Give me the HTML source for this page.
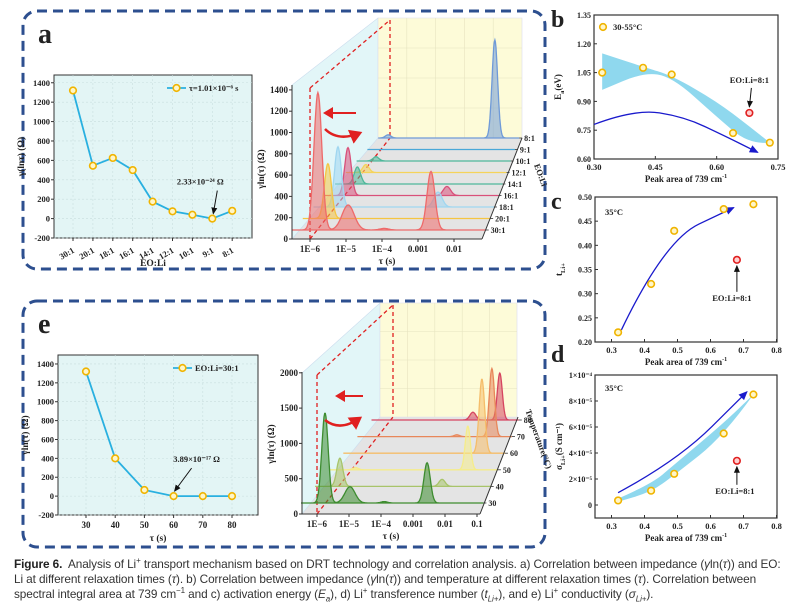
<!DOCTYPE html>
<html><head><meta charset="utf-8">
<style>
html,body{margin:0;padding:0;background:#fff;}
#wrap{position:relative;width:808px;height:612px;overflow:hidden;}
svg text{font-family:"Liberation Serif",serif;font-weight:bold;fill:#222;}
#cap{position:absolute;left:14px;top:557px;width:794px;font-family:"Liberation Sans",sans-serif;font-size:11.8px;line-height:15px;color:#333;white-space:nowrap;letter-spacing:-0.1px;}
#cap b{color:#222}
#cap sup,#cap sub{font-size:8px;line-height:0;}
</style></head><body>
<div id="wrap">
<svg id="svg" width="808" height="560" viewBox="0 0 808 560">
 <rect x="23" y="11" width="522" height="258" rx="14" fill="none" stroke="#2d4f8f" stroke-width="3" stroke-dasharray="10 6"/>
 <rect x="23" y="301" width="522" height="246" rx="14" fill="none" stroke="#2d4f8f" stroke-width="3" stroke-dasharray="10 6"/>
 <text x="38" y="43" font-size="28">a</text>
 <text x="38" y="333" font-size="28">e</text>
 <text x="551" y="27" font-size="24">b</text>
 <text x="551" y="209" font-size="24">c</text>
 <text x="551" y="362" font-size="24">d</text>
 <g id="g"></g>
</svg>
<div id="cap"><b>Figure 6.</b>&nbsp; Analysis of Li<sup>+</sup> transport mechanism based on DRT technology and correlation analysis. a) Correlation between impedance (<i>γ</i>ln(<i>τ</i>)) and EO:<br>Li at different relaxation times (<i>τ</i>). b) Correlation between impedance (<i>γ</i>ln(<i>τ</i>)) and temperature at different relaxation times (<i>τ</i>). Correlation between<br>spectral integral area at 739 cm<sup>−1</sup> and c) activation energy (<i>E<sub>a</sub></i>), d) Li<sup>+</sup> transference number (<i>t<sub>Li+</sub></i>), and e) Li<sup>+</sup> conductivity (<i>σ<sub>Li+</sub></i>).</div>
</div>
<script>
// ---------- data ----------
const aCats=["30:1","20:1","18:1","16:1","14:1","12:1","10:1","9:1","8:1"];
const aVals=[1320,545,625,500,175,75,40,0,80];
const aTicks=[-200,0,200,400,600,800,1000,1200,1400];
const eTaus=[30,40,50,60,70,80];
const eVals=[1320,400,65,0,0,0];
const eTicks=[-200,0,200,400,600,800,1000,1200,1400];
const a3Rows=["30:1","20:1","18:1","16:1","14:1","12:1","10:1","9:1","8:1"];
const a3Colors=["#ee6a6a","#f5c542","#9fd6f0","#d9507a","#4fb89a","#f5d35a","#4fb89a","#4aa8d8","#6f9ad8"];
// [row, log10 tau, height (Ohm), width]
const a3Peaks=[[0,-5.78,1290,0.11],[0,-4.94,235,0.17],[0,-3.94,15,0.12],[0,-2.64,550,0.11],
 [1,-5.78,515,0.1],[2,-5.78,565,0.1],[2,-2.83,140,0.12],[3,-5.78,450,0.1],[3,-2.77,85,0.11],
 [4,-5.8,160,0.1],[5,-5.85,75,0.1],[6,-5.85,40,0.1],[8,-6.14,30,0.1],[8,-2.28,920,0.1]];
const a3Yticks=[0,200,400,600,800,1000,1200,1400];
const a3Xticks=["1E−6","1E−5","1E−4","0.001","0.01"];
const e3Rows=["30","40","50","60","70","80"];
const e3Colors=["#3d8c2f","#a8c46a","#f5ec8a","#f5bd6a","#e8875a","#d64560"];
const e3Peaks=[[0,-5.75,1275,0.1],[0,-4.97,230,0.16],[0,-3.9,20,0.1],[0,-2.56,570,0.1],
 [1,-5.69,400,0.1],[1,-2.35,100,0.1],[2,-5.6,30,0.1],[2,-1.75,620,0.09],[3,-1.51,1050,0.1],
 [4,-2.73,25,0.1],[4,-1.4,965,0.1],[5,-2.44,110,0.12],[5,-1.36,665,0.1]];
const e3Yticks=[0,500,1000,1500,2000];
const e3Xticks=["1E−6","1E−5","1E−4","0.001","0.01","0.1"];
const bX=[0.32,0.42,0.49,0.64,0.73];
const bY=[1.05,1.075,1.04,0.735,0.685];
const bOut=[0.68,0.84];
const bXticks=[0.30,0.45,0.60,0.75];
const bYticks=[0.60,0.75,0.90,1.05,1.20,1.35];
const cX=[0.32,0.42,0.49,0.64,0.73];
const cY=[0.22,0.32,0.43,0.475,0.485];
const cOut=[0.68,0.37];
const cdXticks=[0.3,0.4,0.5,0.6,0.7,0.8];
const cYticks=[0.20,0.25,0.30,0.35,0.40,0.45,0.50];
const dX=[0.32,0.42,0.49,0.64,0.73];
const dY=[0.35,1.1,2.4,5.5,8.5];
const dOut=[0.68,3.4];
const dYticks=[0,2,4,6,8,10];
const dYlabels=["0","2×10⁻⁵","4×10⁻⁵","6×10⁻⁵","8×10⁻⁵","1×10⁻⁴"];

// ---------- helpers ----------
const NS="http://www.w3.org/2000/svg";
const G=document.getElementById("g");
function mk(tag,attrs,parent){const e=document.createElementNS(NS,tag);for(const k in attrs)e.setAttribute(k,attrs[k]);(parent||G).appendChild(e);return e;}
function txt(x,y,s,size,anchor,name){const t=mk("text",{x:x,y:y,"font-size":size,"text-anchor":anchor||"middle"});t.textContent=s;


return t;}
function line(x1,y1,x2,y2,st,w,name,dash){const l=mk("line",{x1:x1,y1:y1,x2:x2,y2:y2,stroke:st,"stroke-width":w});if(dash)l.setAttribute("stroke-dasharray",dash);


return l;}
function marker(x,y,red,name){const c=mk("circle",{cx:x,cy:y,r:3.3,fill:red?"#ffd0d0":"#fff6c8",stroke:red?"#e02020":"#f0b400","stroke-width":1.6});


return c;}
const defs=mk("defs",{});
defs.innerHTML='<marker id="ab" markerWidth="8" markerHeight="8" refX="6" refY="4" orient="auto"><path d="M0,1 L7,4 L0,7 z" fill="#1a1acc"/></marker><marker id="ak" markerWidth="8" markerHeight="8" refX="6" refY="4" orient="auto"><path d="M0,1 L7,4 L0,7 z" fill="#111"/></marker><marker id="ar" markerWidth="6" markerHeight="6" refX="4" refY="3" orient="auto"><path d="M0,0 L5,3 L0,6 z" fill="#e02020"/></marker>';

// ---------- 2D line charts (a, e) ----------
function lineChart(L,R,T,B,yTicks,yMin,yMax,xs,vals,xlabels,rot,legend,note,noteIdx,xTitle,yTitle,pfx){
 const y=v=>B-(v-yMin)/(yMax-yMin)*(B-T);
 const bg=mk("rect",{x:L,y:T,width:R-L,height:B-T,fill:"#e3f5f5",stroke:"#333","stroke-width":1});
 
 
 yTicks.forEach(v=>{line(L,y(v),R,y(v),"#c9dede",0.6,pfx+"-gridline","2 2");line(L-3,y(v),L,y(v),"#333",1,pfx+"-y-tick");txt(L-4,y(v)+3,String(v),8.5,"end",pfx+"-y-tick-label");});
 xs.forEach((x,i)=>{line(x,T,x,B,"#c9dede",0.6,pfx+"-gridline","2 2");line(x,B,x,B+3,"#333",1,pfx+"-x-tick");
  if(rot){const t=txt(x+2,B+14,xlabels[i],8.5,"end",pfx+"-x-tick-label");t.setAttribute("transform","rotate(-30 "+(x+2)+" "+(B+14)+")");}
  else txt(x,B+13,xlabels[i],9,"middle",pfx+"-x-tick-label");});
 const pl=mk("polyline",{points:xs.map((x,i)=>x+","+y(vals[i])).join(" "),fill:"none",stroke:"#29b0e0","stroke-width":1.8});
 
 
 xs.forEach((x,i)=>marker(x,y(vals[i]),false,pfx+"-point"));
 line(R-85,T+13,R-66,T+13,"#29b0e0",1.8,pfx+"-legend-line");marker(R-75.5,T+13,false,pfx+"-legend-marker");
 txt(R-63,T+16,legend,8.5,"start",pfx+"-legend-label");
 const nx=xs[noteIdx],ny=y(vals[noteIdx]);
 txt(nx-4+note[1],ny-34,note[0],8.5,"middle",pfx+"-annotation");
 const ar=line(nx+note[2],ny-28,nx+1,ny-5,"#111",1,pfx+"-annotation-arrow");ar.setAttribute("marker-end","url(#ak)");
 txt((L+R)/2,B+(rot?28:26),xTitle,9.5,"middle",pfx+"-x-axis-title");
 const yt=txt(L-30,(T+B)/2,yTitle,9.5,"middle",pfx+"-y-axis-title");yt.setAttribute("transform","rotate(-90 "+(L-30)+" "+((T+B)/2)+")");
}
lineChart(54,252,75,238,aTicks,-200,1480,aCats.map((c,i)=>73+i*19.9),aVals,aCats,true,"τ=1.01×10⁻⁶ s",["2.33×10⁻²⁴ Ω",-8,5],7,"EO:Li","γ(lnτ) (Ω)","chart-a");
lineChart(58,258,355,515,eTicks,-200,1495,eTaus.map(t=>86+(t-30)*2.92),eVals,eTaus.map(String),false,"EO:Li=30:1",["3.89×10⁻¹⁷ Ω",27,18],3,"τ (s)","γln(τ) (Ω)","chart-e");

// ---------- 3D waterfall charts ----------
function wf(c){
 const p=c.pfx;
 const fl=mk("polygon",{points:c.floor,fill:"#e4e4e4"});
 const lw=mk("polygon",{points:c.lwall,fill:"#e2f6f8",stroke:"#cde","stroke-width":0.6});
 const bw=mk("polygon",{points:c.bwall,fill:"#fdfbd8",stroke:"#dde","stroke-width":0.6});
 for(let k=1;k<5;k++){const gx=c.bw[0]+k*(c.bw[1]-c.bw[0])/5;line(gx,c.bw[2],gx,c.bw[3],"#e6e4c0",0.6,p+"-back-grid");}
 for(let k=1;k<4;k++){const gy=c.bw[2]+k*(c.bw[3]-c.bw[2])/4;line(c.bw[0],gy,c.bw[1],gy,"#e6e4c0",0.6,p+"-back-grid");}
 const rd=c.red;
 line(rd[0],rd[1],rd[0],rd[2],"#e02020",1.3,p+"-guide-line","4 3");
 line(rd[3],rd[4],rd[3],rd[5],"#e02020",1.3,p+"-guide-line","4 3");
 line(rd[0],rd[1],rd[3],rd[4],"#e02020",1.3,p+"-guide-line","4 3");
 line(rd[0],rd[2],rd[3],rd[5],"#e02020",1.3,p+"-guide-line","4 3");
 for(let r=c.rows.length-1;r>=0;r--){
  const x0=c.x0(r),dw=c.dw(r),base=c.base(r),end=(c.right(r)-x0)/dw-6;
  const pk=c.peaks.filter(q=>q[0]===r);
  const pts=[];
  for(let lt=-6.5;lt<=end+0.001;lt+=0.02){let h=0;pk.forEach(q=>{h+=q[2]*Math.exp(-Math.pow((lt-q[1])/q[3],2)/2);});pts.push([x0+(lt+6)*dw,base-h*c.k]);}
  const pth=mk("path",{d:"M"+pts[0][0]+","+base+" L"+pts.map(q=>q[0].toFixed(1)+","+q[1].toFixed(1)).join(" L")+" L"+pts[pts.length-1][0]+","+base+"Z",fill:c.colors[r],"fill-opacity":0.55,stroke:c.colors[r],"stroke-width":1.3});
  
  
  line(pts[pts.length-1][0],base,pts[pts.length-1][0]+3,base,"#333",0.8,p+"-row-tick");
  txt(pts[pts.length-1][0]+5,base+3,c.rows[r],8,"start",p+"-row-label");
 }
 line(c.ax,c.ay0,c.ax,c.ayTop,"#333",1,p+"-y-axis");
 c.yt.forEach(v=>{const yy=c.ay0-v*c.k;line(c.ax-3,yy,c.ax,yy,"#333",1,p+"-y-tick");txt(c.ax-4,yy+3,String(v),9,"end",p+"-y-tick-label");});
 line(c.ax,c.ay0,c.fr,c.ay0,"#333",1,p+"-x-axis");
 line(c.fr,c.ay0,c.br,c.bw[3],"#333",1,p+"-depth-axis");
 c.xt.forEach((s,i)=>{const xx=c.x0(0)+i*c.dw(0);line(xx,c.ay0,xx,c.ay0+3,"#333",1,p+"-x-tick");txt(xx,c.ay0+13,s,9,"middle",p+"-x-tick-label");});
 txt(c.ax+(c.fr-c.ax)*0.5,c.ay0+25,"τ (s)",9.5,"middle",p+"-x-axis-title");
 const yt=txt(c.ax-28,c.ay0-70,"γln(τ) (Ω)",9.5,"middle",p+"-y-axis-title");yt.setAttribute("transform","rotate(-90 "+(c.ax-28)+" "+(c.ay0-70)+")");
 const zt=txt(c.zt[0],c.zt[1],c.ztitle,8.5,"middle",p+"-depth-axis-title");zt.setAttribute("transform","rotate(70 "+c.zt[0]+" "+c.zt[1]+")");
 const a1=line(c.arr[0],c.arr[1],c.arr[2],c.arr[1],"#e02020",2,p+"-shift-arrow");a1.setAttribute("marker-end","url(#ar)");
 const a2=mk("path",{d:c.curve,fill:"none",stroke:"#e02020","stroke-width":2.5,"marker-end":"url(#ar)"});
 
 
}
wf({pfx:"chart-a3d",rows:a3Rows,colors:a3Colors,peaks:a3Peaks,k:0.1065,
 x0:r=>310+10.25*r,dw:r=>36*(1-0.029*r),base:r=>230-11.5*r,right:r=>486+4.2*r,
 floor:"292,239 482,239 522,138 378,138",lwall:"292,239 292,85 378,18 378,138",bwall:"378,18 522,18 522,138 378,138",bw:[378,522,18,138],
 red:[310,88,239,390,20,138],ax:292,ay0:239,ayTop:85,fr:482,br:522,yt:a3Yticks,xt:a3Xticks,
 zt:[538,176],ztitle:"EO:Li",arr:[356,113,325],curve:"M325,129 Q338,142 360,133"});
wf({pfx:"chart-e3d",rows:e3Rows,colors:e3Colors,peaks:e3Peaks,k:0.0706,
 x0:r=>317+13.4*r,dw:r=>32*(1-0.044*r),base:r=>503-16.6*r,right:r=>484+7*r,
 floor:"302,514 480,514 518,417 380,417",lwall:"302,514 302,373 380,303 380,417",bwall:"380,303 517,303 517,417 380,417",bw:[380,517,303,417],
 red:[317,375,514,393,305,417],ax:302,ay0:514,ayTop:372,fr:480,br:518,yt:e3Yticks,xt:e3Xticks,
 zt:[536,440],ztitle:"Temperature(°C)",arr:[363,396,337],curve:"M325,420 Q340,432 360,418"});

// ---------- scatter panels b, c, d ----------
function frame(L,R,T,B,xt,xf,xl,yt,yf,yl,pfx,xTitle,yMain,ySub,yTail){
 const fr=mk("rect",{x:L,y:T,width:R-L,height:B-T,fill:"#fff",stroke:"#333","stroke-width":1.2});
 
 
 xt.forEach((v,i)=>{line(xf(v),B,xf(v),B-3,"#333",1,pfx+"-x-tick");txt(xf(v),B+11,xl[i],8.5,"middle",pfx+"-x-tick-label");});
 yt.forEach((v,i)=>{line(L,yf(v),L+3,yf(v),"#333",1,pfx+"-y-tick");txt(L-3,yf(v)+3,yl[i],8,"end",pfx+"-y-tick-label");});
 const xtl=txt((L+R)/2,B+23,"",9,"middle",pfx+"-x-axis-title");
 xtl.innerHTML='Peak area of 739 cm<tspan dy="-4" font-size="6">-1</tspan>';
 const cx=L-33,cy=(T+B)/2;
 const t=txt(cx,cy,"",9,"middle",pfx+"-y-axis-title");
 t.innerHTML=yMain+'<tspan dy="3" font-size="6.5">'+ySub+'</tspan><tspan dy="-3">'+yTail+'</tspan>';
 t.setAttribute("transform","rotate(-90 "+cx+" "+cy+")");
}
function pathOf(xs,ys,xf,yf){let d="M"+xf(xs[0])+","+yf(ys[0]);for(let i=1;i<xs.length-1;i++){const mx=(xf(xs[i])+xf(xs[i+1]))/2,my=(yf(ys[i])+yf(ys[i+1]))/2;d+=" Q"+xf(xs[i])+","+yf(ys[i])+" "+mx+","+my;}d+=" L"+xf(xs[xs.length-1])+","+yf(ys[ys.length-1]);return d;}
const xb=v=>594+(v-0.30)/0.45*184, yb=v=>159-(v-0.60)/0.75*144;
frame(594,778,15,159,bXticks,xb,bXticks.map(v=>v.toFixed(2)),bYticks,yb,bYticks.map(v=>v.toFixed(2)),"chart-b","","E","a","(eV)");
const bandB=mk("path",{d:pathOf([0.32,0.42,0.49,0.60,0.68,0.73],[1.15,1.08,1.035,0.90,0.77,0.685],xb,yb)+" L"+pathOf([0.73,0.68,0.60,0.49,0.42,0.32],[0.685,0.675,0.82,1.03,1.05,0.96],xb,yb).slice(1)+"Z",fill:"#8fd8ee",stroke:"none"});


const arB=mk("path",{d:pathOf([0.30,0.40,0.52,0.62,0.70],[0.78,0.86,0.82,0.72,0.635],xb,yb),fill:"none",stroke:"#1a1acc","stroke-width":1.3,"marker-end":"url(#ab)"});


bX.forEach((v,i)=>marker(xb(v),yb(bY[i]),false,"chart-b-point"));
marker(xb(bOut[0]),yb(bOut[1]),true,"chart-b-outlier-point");
marker(603,27,false,"chart-b-legend-marker");txt(613,30,"30-55°C",8.5,"start","chart-b-legend-label");
txt(xb(bOut[0]),yb(bOut[1])-30,"EO:Li=8:1",8.5,"middle","chart-b-annotation");
line(xb(bOut[0])+2,yb(bOut[1])-25,xb(bOut[0]),yb(bOut[1])-6,"#111",1,"chart-b-annotation-arrow").setAttribute("marker-end","url(#ak)");

const xc=v=>595+(v-0.25)*330, yc=v=>342-(v-0.2)/0.3*145;
frame(595,777,197,342,cdXticks,xc,cdXticks.map(String),cYticks,yc,cYticks.map(v=>v.toFixed(2)),"chart-c","","t","Li+","");
txt(605,215,"35°C",8.5,"start","chart-c-temperature-label");
const arC=mk("path",{d:pathOf([0.33,0.46,0.67],[0.225,0.41,0.478],xc,yc),fill:"none",stroke:"#1a1acc","stroke-width":1.3,"marker-end":"url(#ab)"});


cX.forEach((v,i)=>marker(xc(v),yc(cY[i]),false,"chart-c-point"));
marker(xc(cOut[0]),yc(cOut[1]),true,"chart-c-outlier-point");
txt(xc(cOut[0])-5,yc(cOut[1])+41,"EO:Li=8:1",8.5,"middle","chart-c-annotation");
line(xc(cOut[0]),yc(cOut[1])+32,xc(cOut[0]),yc(cOut[1])+6,"#111",1,"chart-c-annotation-arrow").setAttribute("marker-end","url(#ak)");

const yd=v=>505-v*13;
frame(595,777,375,518,cdXticks,xc,cdXticks.map(String),dYticks,yd,dYlabels,"chart-d","","σ","Li+","(S cm⁻¹)");
txt(605,391,"35°C",8.5,"start","chart-d-temperature-label");
const bandD=mk("path",{d:pathOf([0.32,0.42,0.49,0.64,0.73],[0.5,1.6,3.1,6.3,8.5],xc,yd)+" L"+pathOf([0.73,0.64,0.49,0.42,0.32],[8.5,5.3,2.3,1.0,0.25],xc,yd).slice(1)+"Z",fill:"#8fd8ee",stroke:"none"});


const arD=mk("path",{d:pathOf([0.32,0.50,0.71],[0.95,3.4,8.7],xc,yd),fill:"none",stroke:"#1a1acc","stroke-width":1.3,"marker-end":"url(#ab)"});


dX.forEach((v,i)=>marker(xc(v),yd(dY[i]),false,"chart-d-point"));
marker(xc(dOut[0]),yd(dOut[1]),true,"chart-d-outlier-point");
txt(xc(dOut[0])-2,yd(dOut[1])+33,"EO:Li=8:1",8.5,"middle","chart-d-annotation");
line(xc(dOut[0]),yd(dOut[1])+24,xc(dOut[0]),yd(dOut[1])+6,"#111",1,"chart-d-annotation-arrow").setAttribute("marker-end","url(#ak)");
</script>
</body></html>
